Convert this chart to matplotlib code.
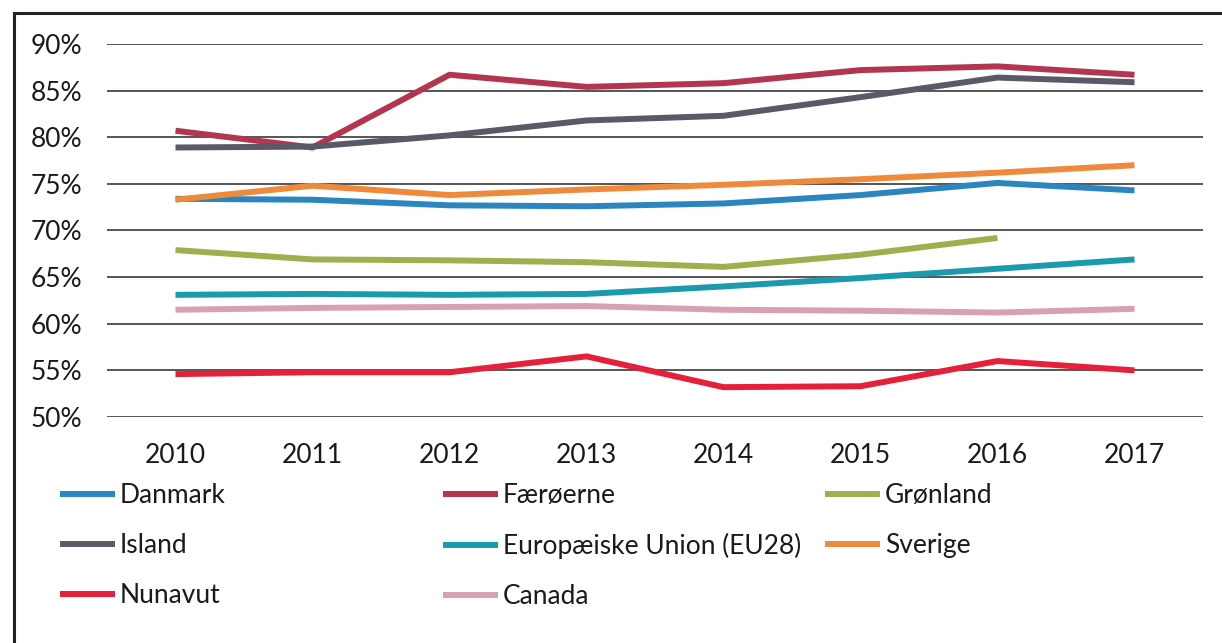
import matplotlib
matplotlib.use("Agg")
import matplotlib.pyplot as plt
from matplotlib.lines import Line2D
from matplotlib.ticker import FuncFormatter, MultipleLocator

years = ["2010", "2011", "2012", "2013", "2014", "2015", "2016", "2017"]

danmark   = [73.4, 73.3, 72.7, 72.6, 72.9, 73.8, 75.1, 74.3]
faeroerne = [80.7, 78.9, 86.7, 85.4, 85.8, 87.2, 87.6, 86.7]
groenland = [67.9, 66.9, 66.8, 66.6, 66.1, 67.4, 69.2]
island    = [78.9, 79.0, 80.2, 81.8, 82.3, 84.3, 86.4, 85.9]
eu28      = [63.1, 63.2, 63.1, 63.2, 64.0, 64.9, 65.9, 66.9]
sverige   = [73.3, 74.8, 73.8, 74.4, 74.9, 75.5, 76.2, 77.0]
nunavut   = [54.6, 54.8, 54.8, 56.5, 53.2, 53.3, 56.0, 55.0]
canada    = [61.5, 61.7, 61.8, 61.9, 61.5, 61.4, 61.2, 61.6]

series = [
    ("Danmark", danmark, "#2b86c0"),
    ("Færøerne", faeroerne, "#b3354f"),
    ("Grønland", groenland, "#9cb04e"),
    ("Island", island, "#5b5868"),
    ("Europæiske Union (EU28)", eu28, "#1b9aac"),
    ("Sverige", sverige, "#ee8a3c"),
    ("Nunavut", nunavut, "#e5203b"),
    ("Canada", canada, "#d9a0b4"),
]

plt.rcParams['font.family'] = ['Lato', 'DejaVu Sans']
FS = 19

W, H = 1222, 643
fig = plt.figure(figsize=(W / 100, H / 100), dpi=100)
ax = fig.add_axes([107 / W, 1 - 417 / H, (1203 - 107) / W, (417 - 44) / H])

x = list(range(len(years)))
handles = {}
for name, vals, col in series:
    ln, = ax.plot(x[:len(vals)], vals, color=col, lw=4.3, solid_capstyle='butt',
                  solid_joinstyle='round', label=name, zorder=3)
    handles[name] = ln

ax.set_xlim(-0.5, len(years) - 0.5)
ax.set_ylim(50, 90)
ax.yaxis.set_major_locator(MultipleLocator(5))
ax.yaxis.set_major_formatter(FuncFormatter(lambda v, p: f"{v:.0f}%"))
ax.set_xticks(x)
ax.set_xticklabels(years)
ax.grid(axis='y', color='#555555', lw=1.4, zorder=1)
for s in ax.spines.values():
    s.set_visible(False)
ax.tick_params(axis='both', length=0, labelsize=FS, colors='#1a1a1a')
ax.tick_params(axis='y', pad=18)
ax.tick_params(axis='x', pad=19)

columns = [
    (["Danmark", "Island", "Nunavut"], 60),
    (["Færøerne", "Europæiske Union (EU28)", "Canada"], 443),
    (["Grønland", "Sverige"], 825),
]
for names, xpx in columns:
    leg = fig.legend([handles[n] for n in names], names, loc='upper left',
                     bbox_to_anchor=(xpx / W, 1 - 483 / H), frameon=False,
                     fontsize=FS, handlelength=2.08, handletextpad=0.19,
                     labelspacing=0.95, borderaxespad=0, borderpad=0)
    for t in leg.get_texts():
        t.set_color('#1a1a1a')

# scanned frame border
fig.add_artist(Line2D([14 / W, 14 / W], [0, 1 - 13 / H], transform=fig.transFigure,
                      color='#222222', lw=2.2))
fig.add_artist(Line2D([14 / W, 1], [1 - 13 / H, 1 - 13 / H], transform=fig.transFigure,
                      color='#222222', lw=2.2))

fig.savefig("out.png", dpi=100)
